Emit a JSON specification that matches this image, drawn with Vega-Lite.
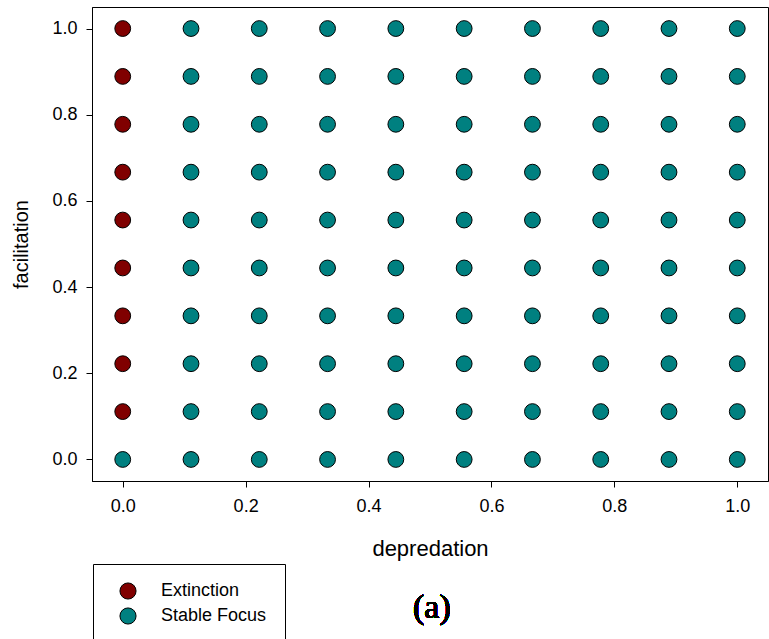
{
  "$schema": "https://vega.github.io/schema/vega-lite/v6.json",
  "width": 676,
  "height": 474,
  "autosize": {"type": "none"},
  "padding": {"left": 92, "top": 7, "right": 1, "bottom": 158},
  "background": "white",
  "config": {
    "view": {"stroke": "black", "strokeWidth": 1},
    "font": "Liberation Sans",
    "axis": {
      "grid": false,
      "domainColor": "black",
      "tickColor": "black",
      "tickSize": 6,
      "labelFont": "Liberation Sans",
      "labelFontSize": 18,
      "labelColor": "black",
      "titleFont": "Liberation Sans",
      "titleFontSize": 20,
      "titleFontWeight": "normal",
      "titleColor": "black"
    }
  },
  "data": {
    "values": [
      {"d": 0, "f": 0, "s": "Stable Focus"},
      {"d": 0, "f": 0.1111, "s": "Extinction"},
      {"d": 0, "f": 0.2222, "s": "Extinction"},
      {"d": 0, "f": 0.3333, "s": "Extinction"},
      {"d": 0, "f": 0.4444, "s": "Extinction"},
      {"d": 0, "f": 0.5556, "s": "Extinction"},
      {"d": 0, "f": 0.6667, "s": "Extinction"},
      {"d": 0, "f": 0.7778, "s": "Extinction"},
      {"d": 0, "f": 0.8889, "s": "Extinction"},
      {"d": 0, "f": 1, "s": "Extinction"},
      {"d": 0.1111, "f": 0, "s": "Stable Focus"},
      {"d": 0.1111, "f": 0.1111, "s": "Stable Focus"},
      {"d": 0.1111, "f": 0.2222, "s": "Stable Focus"},
      {"d": 0.1111, "f": 0.3333, "s": "Stable Focus"},
      {"d": 0.1111, "f": 0.4444, "s": "Stable Focus"},
      {"d": 0.1111, "f": 0.5556, "s": "Stable Focus"},
      {"d": 0.1111, "f": 0.6667, "s": "Stable Focus"},
      {"d": 0.1111, "f": 0.7778, "s": "Stable Focus"},
      {"d": 0.1111, "f": 0.8889, "s": "Stable Focus"},
      {"d": 0.1111, "f": 1, "s": "Stable Focus"},
      {"d": 0.2222, "f": 0, "s": "Stable Focus"},
      {"d": 0.2222, "f": 0.1111, "s": "Stable Focus"},
      {"d": 0.2222, "f": 0.2222, "s": "Stable Focus"},
      {"d": 0.2222, "f": 0.3333, "s": "Stable Focus"},
      {"d": 0.2222, "f": 0.4444, "s": "Stable Focus"},
      {"d": 0.2222, "f": 0.5556, "s": "Stable Focus"},
      {"d": 0.2222, "f": 0.6667, "s": "Stable Focus"},
      {"d": 0.2222, "f": 0.7778, "s": "Stable Focus"},
      {"d": 0.2222, "f": 0.8889, "s": "Stable Focus"},
      {"d": 0.2222, "f": 1, "s": "Stable Focus"},
      {"d": 0.3333, "f": 0, "s": "Stable Focus"},
      {"d": 0.3333, "f": 0.1111, "s": "Stable Focus"},
      {"d": 0.3333, "f": 0.2222, "s": "Stable Focus"},
      {"d": 0.3333, "f": 0.3333, "s": "Stable Focus"},
      {"d": 0.3333, "f": 0.4444, "s": "Stable Focus"},
      {"d": 0.3333, "f": 0.5556, "s": "Stable Focus"},
      {"d": 0.3333, "f": 0.6667, "s": "Stable Focus"},
      {"d": 0.3333, "f": 0.7778, "s": "Stable Focus"},
      {"d": 0.3333, "f": 0.8889, "s": "Stable Focus"},
      {"d": 0.3333, "f": 1, "s": "Stable Focus"},
      {"d": 0.4444, "f": 0, "s": "Stable Focus"},
      {"d": 0.4444, "f": 0.1111, "s": "Stable Focus"},
      {"d": 0.4444, "f": 0.2222, "s": "Stable Focus"},
      {"d": 0.4444, "f": 0.3333, "s": "Stable Focus"},
      {"d": 0.4444, "f": 0.4444, "s": "Stable Focus"},
      {"d": 0.4444, "f": 0.5556, "s": "Stable Focus"},
      {"d": 0.4444, "f": 0.6667, "s": "Stable Focus"},
      {"d": 0.4444, "f": 0.7778, "s": "Stable Focus"},
      {"d": 0.4444, "f": 0.8889, "s": "Stable Focus"},
      {"d": 0.4444, "f": 1, "s": "Stable Focus"},
      {"d": 0.5556, "f": 0, "s": "Stable Focus"},
      {"d": 0.5556, "f": 0.1111, "s": "Stable Focus"},
      {"d": 0.5556, "f": 0.2222, "s": "Stable Focus"},
      {"d": 0.5556, "f": 0.3333, "s": "Stable Focus"},
      {"d": 0.5556, "f": 0.4444, "s": "Stable Focus"},
      {"d": 0.5556, "f": 0.5556, "s": "Stable Focus"},
      {"d": 0.5556, "f": 0.6667, "s": "Stable Focus"},
      {"d": 0.5556, "f": 0.7778, "s": "Stable Focus"},
      {"d": 0.5556, "f": 0.8889, "s": "Stable Focus"},
      {"d": 0.5556, "f": 1, "s": "Stable Focus"},
      {"d": 0.6667, "f": 0, "s": "Stable Focus"},
      {"d": 0.6667, "f": 0.1111, "s": "Stable Focus"},
      {"d": 0.6667, "f": 0.2222, "s": "Stable Focus"},
      {"d": 0.6667, "f": 0.3333, "s": "Stable Focus"},
      {"d": 0.6667, "f": 0.4444, "s": "Stable Focus"},
      {"d": 0.6667, "f": 0.5556, "s": "Stable Focus"},
      {"d": 0.6667, "f": 0.6667, "s": "Stable Focus"},
      {"d": 0.6667, "f": 0.7778, "s": "Stable Focus"},
      {"d": 0.6667, "f": 0.8889, "s": "Stable Focus"},
      {"d": 0.6667, "f": 1, "s": "Stable Focus"},
      {"d": 0.7778, "f": 0, "s": "Stable Focus"},
      {"d": 0.7778, "f": 0.1111, "s": "Stable Focus"},
      {"d": 0.7778, "f": 0.2222, "s": "Stable Focus"},
      {"d": 0.7778, "f": 0.3333, "s": "Stable Focus"},
      {"d": 0.7778, "f": 0.4444, "s": "Stable Focus"},
      {"d": 0.7778, "f": 0.5556, "s": "Stable Focus"},
      {"d": 0.7778, "f": 0.6667, "s": "Stable Focus"},
      {"d": 0.7778, "f": 0.7778, "s": "Stable Focus"},
      {"d": 0.7778, "f": 0.8889, "s": "Stable Focus"},
      {"d": 0.7778, "f": 1, "s": "Stable Focus"},
      {"d": 0.8889, "f": 0, "s": "Stable Focus"},
      {"d": 0.8889, "f": 0.1111, "s": "Stable Focus"},
      {"d": 0.8889, "f": 0.2222, "s": "Stable Focus"},
      {"d": 0.8889, "f": 0.3333, "s": "Stable Focus"},
      {"d": 0.8889, "f": 0.4444, "s": "Stable Focus"},
      {"d": 0.8889, "f": 0.5556, "s": "Stable Focus"},
      {"d": 0.8889, "f": 0.6667, "s": "Stable Focus"},
      {"d": 0.8889, "f": 0.7778, "s": "Stable Focus"},
      {"d": 0.8889, "f": 0.8889, "s": "Stable Focus"},
      {"d": 0.8889, "f": 1, "s": "Stable Focus"},
      {"d": 1, "f": 0, "s": "Stable Focus"},
      {"d": 1, "f": 0.1111, "s": "Stable Focus"},
      {"d": 1, "f": 0.2222, "s": "Stable Focus"},
      {"d": 1, "f": 0.3333, "s": "Stable Focus"},
      {"d": 1, "f": 0.4444, "s": "Stable Focus"},
      {"d": 1, "f": 0.5556, "s": "Stable Focus"},
      {"d": 1, "f": 0.6667, "s": "Stable Focus"},
      {"d": 1, "f": 0.7778, "s": "Stable Focus"},
      {"d": 1, "f": 0.8889, "s": "Stable Focus"},
      {"d": 1, "f": 1, "s": "Stable Focus"}
    ]
  },
  "layer": [
    {
      "mark": {"type": "point", "shape": "circle", "filled": true, "size": 250, "stroke": "black", "strokeWidth": 1, "opacity": 1},
      "encoding": {
        "x": {
          "field": "d", "type": "quantitative",
          "scale": {"domain": [-0.05, 1.05], "nice": false, "zero": false},
          "axis": {"title": "depredation", "titleFontSize": 22, "values": [0, 0.2, 0.4, 0.6, 0.8, 1.0], "format": ".1f", "labelPadding": 10, "titlePadding": 23}
        },
        "y": {
          "field": "f", "type": "quantitative",
          "scale": {"domain": [-0.05, 1.05], "nice": false, "zero": false},
          "axis": {"title": "facilitation", "values": [0, 0.2, 0.4, 0.6, 0.8, 1.0], "format": ".1f", "labelPadding": 9, "titlePadding": 20}
        },
        "fill": {
          "field": "s", "type": "nominal",
          "scale": {"domain": ["Extinction", "Stable Focus"], "range": ["#800000", "#008080"]},
          "legend": {
            "title": null,
            "orient": "none",
            "legendX": 1,
            "legendY": 557,
            "fillColor": "white",
            "strokeColor": "black",
            "padding": 18,
            "symbolOffset": 8,
            "symbolSize": 260,
            "symbolType": "circle",
            "symbolStrokeColor": "black",
            "symbolStrokeWidth": 1,
            "symbolOpacity": 1,
            "labelFont": "Liberation Sans",
            "labelFontSize": 18,
            "labelColor": "black",
            "labelOffset": 24,
            "rowPadding": 3
          }
        }
      }
    },
    {
      "mark": {"type": "text", "text": "(a)", "font": "Liberation Serif", "fontSize": 34, "fontWeight": "normal", "fill": "black", "stroke": null, "strokeWidth": 0, "align": "center", "baseline": "middle", "clip": false},
      "encoding": {
        "x": {"datum": 0.503, "type": "quantitative"},
        "y": {"datum": -0.345, "type": "quantitative"}
      }
    }
  ]
}
